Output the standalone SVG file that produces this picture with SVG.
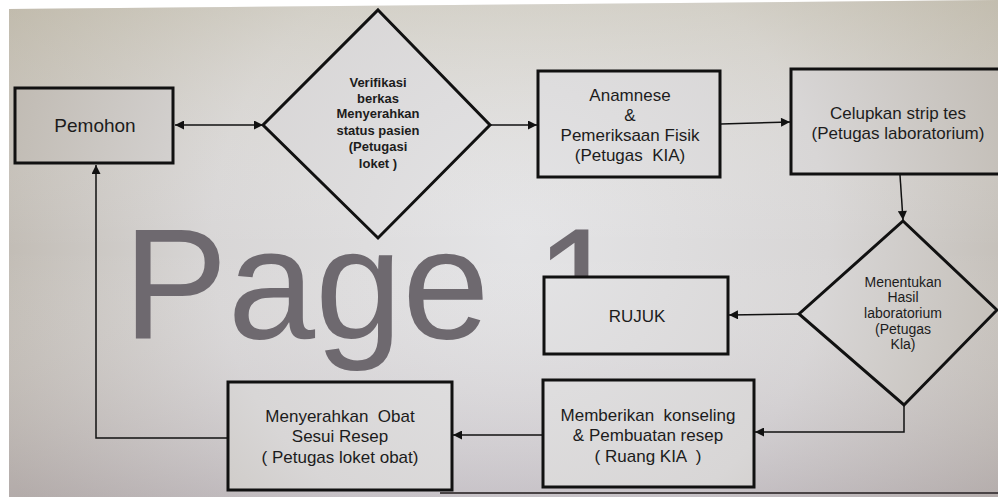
<svg xmlns="http://www.w3.org/2000/svg" width="998" height="497" viewBox="0 0 998 497">
<defs>
<radialGradient id="bg" gradientUnits="userSpaceOnUse" cx="520" cy="240" r="560">
<stop offset="0" stop-color="#e4e4e6"/>
<stop offset="0.55" stop-color="#d8d6d6"/>
<stop offset="1" stop-color="#bdb7ae"/>
</radialGradient>
<linearGradient id="tint" gradientUnits="userSpaceOnUse" x1="0" y1="0" x2="0" y2="497">
<stop offset="0" stop-color="#c8c2a8" stop-opacity="0.35"/>
<stop offset="0.5" stop-color="#ffffff" stop-opacity="0"/>
<stop offset="1" stop-color="#9c90a0" stop-opacity="0.3"/>
</linearGradient>
<clipPath id="clip1">
<rect x="500" y="150" width="150" height="126"/>
</clipPath>
<marker id="ah" viewBox="0 0 10 10" refX="10" refY="5" markerWidth="10" markerHeight="9" markerUnits="userSpaceOnUse" orient="auto-start-reverse">
<path d="M0,0 L10,5 L0,10 z" fill="#111"/>
</marker>
</defs>
<style>
.box{fill:url(#bg);stroke:#111;stroke-width:3}
.dia{fill:url(#bg);stroke:#111;stroke-width:3;stroke-linejoin:miter}
.t{font-family:"Liberation Sans",Arial,sans-serif;font-size:17px;fill:#1c1c1c;text-anchor:middle}
.d1{font-family:"Liberation Sans",Arial,sans-serif;font-size:13px;font-weight:bold;fill:#1c1c1c;text-anchor:middle}
.d2{font-family:"Liberation Sans",Arial,sans-serif;font-size:14px;fill:#1c1c1c;text-anchor:middle}
.c{fill:none;stroke:#111;stroke-width:1.5}
.wm{font-family:"Liberation Sans",Arial,sans-serif;font-size:157px;fill:#6e696f}
</style>
<rect x="0" y="0" width="998" height="497" fill="#ffffff"/>
<polygon points="9,9 998,0 998,497 9,497" fill="url(#bg)"/>
<polygon points="9,9 998,0 998,497 9,497" fill="url(#tint)"/>
<line x1="440" y1="493" x2="998" y2="493" stroke="#4a4446" stroke-width="2"/>
<text class="wm" x="123" y="338">Page</text>
<g clip-path="url(#clip1)">
<text class="wm" x="535" y="338">1</text>
</g>

<g id="connectors">
<line class="c" x1="175" y1="125" x2="263" y2="125" marker-start="url(#ah)" marker-end="url(#ah)"/>
<line class="c" x1="491" y1="125" x2="537" y2="125" marker-end="url(#ah)"/>
<line class="c" x1="721" y1="124" x2="790" y2="122" marker-end="url(#ah)"/>
<line class="c" x1="900" y1="175" x2="903" y2="220" marker-end="url(#ah)"/>
<line class="c" x1="799" y1="314" x2="729" y2="315" marker-end="url(#ah)"/>
<polyline class="c" points="904,405 904,432 755,432" marker-end="url(#ah)"/>
<line class="c" x1="543" y1="435" x2="453" y2="435" marker-end="url(#ah)"/>
<polyline class="c" points="228,438 96,438 96,165" marker-end="url(#ah)"/>
</g>

<g id="pemohon">
<rect class="box" x="15" y="88" width="158" height="75"/>
<text class="t" x="95" y="132" style="font-size:19px">Pemohon</text>
</g>

<g id="verifikasi">
<polygon class="dia" points="378,10 490,125 378,238 263,125"/>
<text class="d1" x="378" y="86.5">Verifikasi</text>
<text class="d1" x="378" y="102.5">berkas</text>
<text class="d1" x="378" y="118">Menyerahkan</text>
<text class="d1" x="378" y="134.5">status pasien</text>
<text class="d1" x="378" y="151">(Petugasi</text>
<text class="d1" x="378" y="167.5">loket )</text>
</g>

<g id="anamnese">
<rect class="box" x="538" y="71" width="182" height="106"/>
<text class="t" x="630" y="101">Anamnese</text>
<text class="t" x="630" y="121">&amp;</text>
<text class="t" x="630" y="141">Pemeriksaan Fisik</text>
<text class="t" x="630" y="161" xml:space="preserve">(Petugas  KIA)</text>
</g>

<g id="celupkan">
<rect class="box" x="791" y="69" width="230" height="105"/>
<text class="t" x="898" y="119">Celupkan strip tes</text>
<text class="t" x="898" y="139">(Petugas laboratorium)</text>
</g>

<g id="menentukan">
<polygon class="dia" points="903,221 997,310 904,405 799,314"/>
<text class="d2" x="903" y="286.5">Menentukan</text>
<text class="d2" x="903" y="302">Hasil</text>
<text class="d2" x="903" y="317.5">laboratorium</text>
<text class="d2" x="903" y="334">(Petugas</text>
<text class="d2" x="903" y="349">Kla)</text>
</g>

<g id="rujuk">
<rect class="box" x="544" y="277" width="184" height="77"/>
<text class="t" x="637" y="322">RUJUK</text>
</g>

<g id="memberikan">
<rect class="box" x="543" y="380" width="211" height="107"/>
<text class="t" x="648" y="421" xml:space="preserve">Memberikan  konseling</text>
<text class="t" x="648" y="441">&amp; Pembuatan resep</text>
<text class="t" x="648" y="462" xml:space="preserve">( Ruang KIA  )</text>
</g>

<g id="menyerahkan">
<rect class="box" x="228" y="382" width="224" height="108"/>
<text class="t" x="340" y="422" xml:space="preserve">Menyerahkan  Obat</text>
<text class="t" x="340" y="442">Sesui Resep</text>
<text class="t" x="340" y="463">( Petugas loket obat)</text>
</g>
</svg>
